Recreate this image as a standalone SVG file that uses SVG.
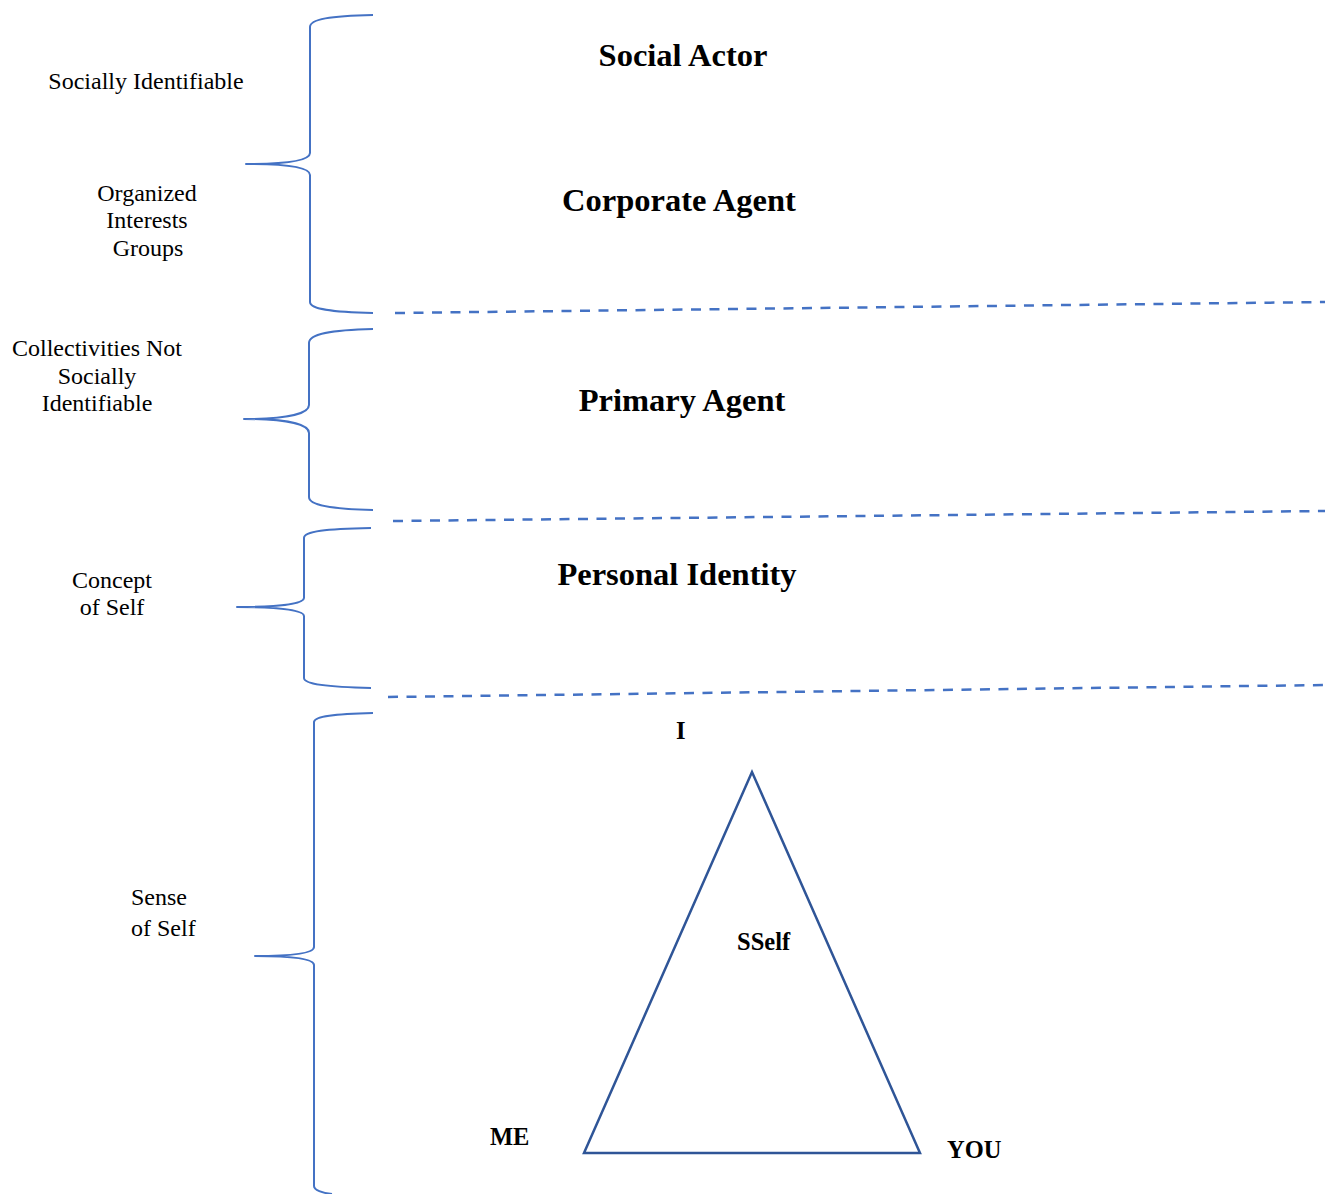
<svg xmlns="http://www.w3.org/2000/svg" width="1325" height="1194" viewBox="0 0 1325 1194">
  <style>
    .brace { fill: none; stroke: #4472C4; stroke-width: 2; stroke-linejoin: round; }
    .dash { fill: none; stroke: #4472C4; stroke-width: 2.5; stroke-dasharray: 10 8.5; }
    .tri { fill: none; stroke: #2F5597; stroke-width: 2.5; stroke-linejoin: miter; }
    .lbl { font-family: "Liberation Serif", "Times New Roman", serif; font-size: 24px; fill: #000; text-anchor: middle; }
    .title { font-family: "Liberation Serif", "Times New Roman", serif; font-size: 32.5px; font-weight: bold; fill: #000; text-anchor: middle; }
    .vx { font-family: "Liberation Serif", "Times New Roman", serif; font-size: 24.5px; font-weight: bold; fill: #000; }
  </style>

  <rect width="1325" height="1194" fill="#fff"/>

  <!-- curly braces grouping the levels -->
  <g id="braces">
    <path id="brace-social" class="brace" d="M373,15 C330,16 310,19 310,27 L310,153 C310,160 290,164 246,164 C290,164 310,168 310,175 L310,302 C310,309 330,312 373,313"/>
    <path id="brace-primary" class="brace" d="M373,329 C330,330 309,334 309,343 L309,405 C309,413 290,419 244,419 C290,419 309,425 309,433 L309,497 C309,505 330,509 373,510"/>
    <path id="brace-personal" class="brace" d="M371,528 C326,529 304,531 304,538 L304,598 C304,603 285,607 237,607 C285,607 304,611 304,616 L304,678 C304,684 326,687 371,688"/>
    <path id="brace-self" class="brace" d="M373,713 C335,714 314,716 314,722 L314,947 C314,953 295,956 255,956 C295,956 314,959 314,965 L314,1186 C314,1190 322,1193 332,1194"/>
  </g>

  <!-- dashed level separators -->
  <g id="connectors">
    <line class="dash" x1="395" y1="313" x2="1325" y2="302"/>
    <line class="dash" x1="393" y1="521" x2="1325" y2="511"/>
    <line class="dash" x1="388" y1="697" x2="1325" y2="685"/>
  </g>

  <!-- left-hand labels -->
  <g id="label-socially-identifiable">
    <text class="lbl" x="146" y="89">Socially Identifiable</text>
  </g>
  <g id="label-organized">
    <text class="lbl" x="147" y="201">Organized</text>
    <text class="lbl" x="147" y="228">Interests</text>
    <text class="lbl" x="148" y="256">Groups</text>
  </g>
  <g id="label-collectivities">
    <text class="lbl" x="97" y="356">Collectivities Not</text>
    <text class="lbl" x="97" y="384">Socially</text>
    <text class="lbl" x="97" y="411">Identifiable</text>
  </g>
  <g id="label-concept">
    <text class="lbl" x="112" y="588">Concept</text>
    <text class="lbl" x="112" y="615">of Self</text>
  </g>
  <g id="label-sense">
    <text class="lbl" x="131" y="905" style="text-anchor:start">Sense</text>
    <text class="lbl" x="131" y="936" style="text-anchor:start">of Self</text>
  </g>

  <!-- level titles -->
  <g id="social-actor"><text class="title" x="683" y="66">Social Actor</text></g>
  <g id="corporate-agent"><text class="title" x="679" y="211">Corporate Agent</text></g>
  <g id="primary-agent"><text class="title" x="682" y="411">Primary Agent</text></g>
  <g id="personal-identity"><text class="title" x="677" y="585">Personal Identity</text></g>

  <!-- self triangle -->
  <g id="self-triangle">
    <polygon class="tri" points="752,772 584,1153 920,1153"/>
    <text class="vx" x="737" y="950">SSelf</text>
  </g>
  <g id="vertex-i"><text class="vx" x="676" y="739">I</text></g>
  <g id="vertex-me"><text class="vx" x="490" y="1145">ME</text></g>
  <g id="vertex-you"><text class="vx" x="947" y="1158">YOU</text></g>
</svg>
